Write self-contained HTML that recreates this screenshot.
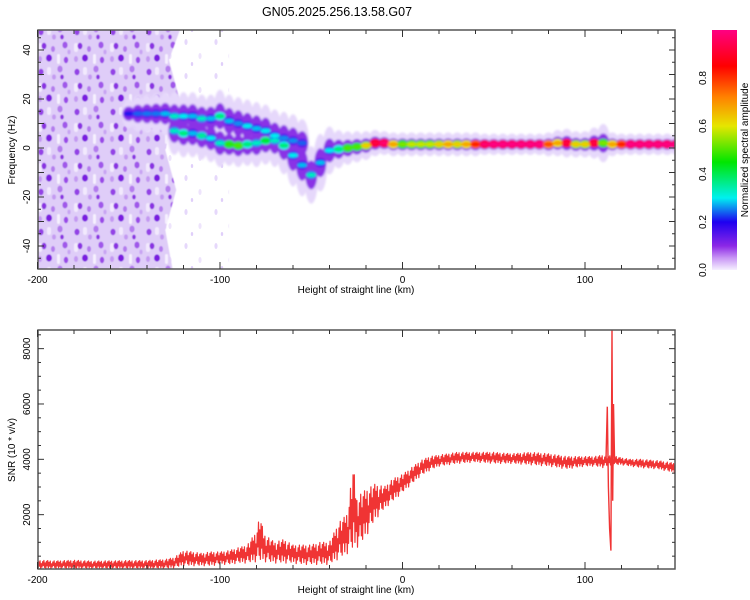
<!DOCTYPE html>
<html><head><meta charset="utf-8">
<style>
html,body{margin:0;padding:0;background:#fff;}
svg{display:block;font-family:"Liberation Sans",sans-serif;}
</style></head>
<body>
<svg id="chart" width="750" height="600" viewBox="0 0 750 600">
<defs>
<filter id="blur" x="-20%" y="-50%" width="140%" height="200%"><feGaussianBlur stdDeviation="1.1"/></filter>
<filter id="soft"><feGaussianBlur stdDeviation="0.6"/></filter>
<pattern id="noise" width="36" height="40" patternUnits="userSpaceOnUse">
<rect width="36" height="40" fill="#dfcdf8"/>
<rect x="2" y="3" width="4" height="9" rx="2" fill="#f2e9fd"/>
<rect x="21" y="14" width="3" height="10" rx="1.5" fill="#f6f0fe"/>
<rect x="11" y="27" width="4" height="8" rx="2" fill="#f2e9fd"/>
<ellipse cx="8" cy="6" rx="2.4" ry="3.2" fill="#8a32e2"/>
<ellipse cx="17" cy="9" rx="2" ry="3" fill="#b47cee"/>
<ellipse cx="29" cy="5" rx="2.6" ry="3.4" fill="#a058ea"/>
<ellipse cx="4" cy="19" rx="2" ry="3" fill="#c49af2"/>
<ellipse cx="13" cy="18" rx="3" ry="3.6" fill="#7a1ee0"/>
<ellipse cx="30" cy="20" rx="2.2" ry="3.2" fill="#9a4ae8"/>
<ellipse cx="24" cy="29" rx="2.6" ry="3.4" fill="#b47cee"/>
<ellipse cx="5" cy="32" rx="2.6" ry="3.2" fill="#9442e6"/>
<ellipse cx="18" cy="37" rx="2" ry="2.6" fill="#c49af2"/>
<ellipse cx="33" cy="12" rx="1.6" ry="2.4" fill="#c8a4f3"/>
<ellipse cx="26" cy="37" rx="1.8" ry="2.4" fill="#8a32e2"/>
</pattern>
<pattern id="sparse" width="30" height="34" patternUnits="userSpaceOnUse">
<ellipse cx="6" cy="8" rx="1.6" ry="3" fill="#e6d8fb"/>
<ellipse cx="20" cy="22" rx="1.6" ry="3" fill="#eee4fc"/>
<ellipse cx="12" cy="30" rx="1.2" ry="2" fill="#e0cffa"/>
</pattern>
<linearGradient id="cbar" x1="0" y1="1" x2="0" y2="0">
<stop offset="0" stop-color="#f6f0ff"/>
<stop offset="0.05" stop-color="#c896f5"/>
<stop offset="0.1" stop-color="#8c28e6"/>
<stop offset="0.2" stop-color="#1e00f0"/>
<stop offset="0.3" stop-color="#00f0f0"/>
<stop offset="0.45" stop-color="#00e600"/>
<stop offset="0.6" stop-color="#e6e600"/>
<stop offset="0.72" stop-color="#ff8200"/>
<stop offset="0.85" stop-color="#ff0000"/>
<stop offset="1" stop-color="#ff0082"/>
</linearGradient>
<clipPath id="clipTop"><rect x="38" y="30" width="637" height="239"/></clipPath>
<clipPath id="clipBot"><rect x="38" y="330" width="637" height="239"/></clipPath>
</defs>
<text x="337" y="16" font-size="12.5" text-anchor="middle" fill="#000">GN05.2025.256.13.58.G07</text>
<g id="topPanel"></g>
<g id="botPanel"></g>
<g id="cbPanel"></g>
</svg>
<script>
// ---- spectrogram data ----
const mainKm = [-125,-120,-115,-110,-105,-100,-95,-90,-85,-80,-75,-70,-65,-60,-55,-50,-45,-40,-35,-30,-25,-20,-15,-10,-5,0,5,10,15,20,25,30,35,40,45,50,55,60,65,70,75,80,85,90,95,100,105,110,115,120,125,130,135,140,145,150];
const mainFreq = [7,6,6,5,4,2,1.5,1,1.5,2,3,3,1,-3,-7,-11,-6,-1,-0.5,0,0.5,1,2,2,1.5,1.5,1.5,1.5,1.5,1.5,1.5,1.5,1.5,1.5,1.5,1.5,1.5,1.5,1.5,1.5,1.5,1.5,2,2,1.5,1.5,2,2,1.5,1.5,1.5,1.5,1.5,1.5,1.5,1.5];
const mainAmp = [0.25,0.3,0.2,0.28,0.22,0.25,0.4,0.42,0.3,0.25,0.35,0.25,0.3,0.22,0.2,0.25,0.2,0.22,0.3,0.42,0.42,0.55,0.85,0.9,0.6,0.45,0.5,0.5,0.5,0.55,0.6,0.55,0.6,0.75,0.9,0.95,0.95,0.95,0.95,0.95,0.95,0.7,0.6,0.85,0.55,0.55,0.85,0.45,0.6,0.75,0.95,0.95,0.95,0.95,0.95,0.95];
const mainSpread = [2,2,2,2,2,2,1.8,1.8,1.8,2,2,2.2,2.4,2.6,2.6,2.4,2.4,2,1.6,1.4,1.3,1.2,1.1,1,1,1,1,1,1,1,1,1,1,1,0.9,0.9,0.9,0.9,0.9,0.9,0.9,1,1.1,1.2,1.1,1.1,1.3,1.6,1,0.9,0.9,0.9,0.9,0.9,0.9,0.9];
const branchKm = [-150,-145,-140,-135,-130,-125,-120,-115,-110,-105,-100,-95,-90,-85,-80,-75,-70,-65,-60,-55];
const branchFreq = [14,14,14,14,14,13,13,13,12,12,13,11,10,9,8,7,5,4,3,2];
const branchAmp = [0.13,0.16,0.17,0.17,0.2,0.25,0.22,0.2,0.25,0.2,0.3,0.2,0.18,0.22,0.2,0.22,0.22,0.18,0.18,0.16];
const branchSpread = [1.2,1.5,1.6,1.7,1.8,2,2,2,2,2,2.2,2.2,2.2,2.2,2.2,2.2,2.2,2.2,2.2,2];
const xTicks = [-200,-100,0,100];
const fTicks = [-40,-20,0,20,40];
const cbTicks = [0,0.2,0.4,0.6,0.8];
// ---- SNR data ----
const snrKm = [-200,-190,-180,-170,-160,-150,-140,-130,-125,-120,-115,-110,-105,-100,-95,-90,-85,-80,-78,-76,-70,-65,-60,-55,-50,-45,-40,-35,-32,-30,-27,-25,-22,-20,-15,-10,-5,0,5,10,15,20,25,30,40,50,60,70,80,85,90,95,100,105,110,117,120,125,130,140,150];
const snrLow = [50,50,50,50,50,50,50,50,80,150,150,150,150,200,200,250,250,300,300,300,250,250,250,200,200,200,200,400,500,600,700,800,1000,1200,1800,2200,2500,2800,3100,3400,3600,3750,3800,3850,3900,3850,3850,3800,3750,3700,3650,3700,3750,3750,3700,3800,3800,3750,3700,3650,3500];
const snrHigh = [350,330,350,320,330,340,340,380,450,700,650,600,650,650,700,800,900,1400,2000,1300,1000,1100,900,900,900,1000,1000,1700,1900,2100,3800,2600,2800,2900,3100,3000,3300,3450,3700,3950,4100,4150,4200,4250,4250,4250,4200,4250,4200,4150,4100,4100,4100,4100,4150,4100,4050,4000,4000,3950,3850];
const transKm = [108,110,111.5,112.2,112.8,113.5,114.2,114.8,115.2,115.6,116.2,118];
const transVal = [3900,3950,4000,5900,3000,1500,700,8700,2500,6000,3900,3900];
const snrTicks = [2000,4000,6000,8000];

const NS = 'http://www.w3.org/2000/svg';
function mk(tag, attrs, parent){const e=document.createElementNS(NS,tag);for(const k in attrs)e.setAttribute(k,attrs[k]);parent.appendChild(e);return e;}
const xpx = km => 37.5 + (km + 200) * 1.825;
const ytop = f => 148 - f * 2.45;
const ybot = v => 570 - v * 0.02767;
const stops = [[0,[246,240,255]],[0.05,[200,150,245]],[0.1,[140,40,230]],[0.2,[30,0,240]],[0.3,[0,240,240]],[0.45,[0,230,0]],[0.6,[230,230,0]],[0.72,[255,130,0]],[0.85,[255,0,0]],[1,[255,0,130]]];
function cm(v){v=Math.max(0,Math.min(1,v));for(let i=1;i<stops.length;i++){if(v<=stops[i][0]){const a=stops[i-1],b=stops[i];const t=(v-a[0])/(b[0]-a[0]);const c=a[1].map((x,j)=>Math.round(x+(b[1][j]-x)*t));return `rgb(${c[0]},${c[1]},${c[2]})`;}}return 'rgb(255,0,130)';}

// ---------- TOP PANEL ----------
const topG = document.getElementById('topPanel');
const heat = mk('g',{'clip-path':'url(#clipTop)'},topG);


const sp = mk('rect',{x:xpx(-135),y:30,width:xpx(-95)-xpx(-135),height:239,fill:'url(#sparse)'},heat);


const nz = mk('path',{d:`M38 30 L${xpx(-122)} 30 L${xpx(-128)} 60 L${xpx(-122)} 100 L${xpx(-130)} 150 L${xpx(-124)} 190 L${xpx(-130)} 230 L${xpx(-126)} 269 L38 269 Z`,fill:'url(#noise)',filter:'url(#soft)'},heat);


const ridge = mk('g',{filter:'url(#blur)'},heat);


function drawTrack(kms, fs, as, ss, layer){
  for(let i=0;i<kms.length;i++){
    const cx=xpx(kms[i]), cy=ytop(fs[i]), a=as[i], s=ss[i];
    let e;
    if(layer===0) e=mk('ellipse',{cx,cy,rx:7,ry:12*s,fill:'#e6d8fb'},ridge);
    else if(layer===1) e=mk('ellipse',{cx,cy,rx:6,ry:6*s,fill:'#8a30e6'},ridge);
    else if(layer===2) e=mk('ellipse',{cx,cy,rx:5.5,ry:4.2,fill:cm(a)},ridge);
    else e=mk('ellipse',{cx,cy,rx:5,ry:2.2,fill:cm(Math.min(1,a+0.08))},ridge);
    
    
  }
}
for(let l=0;l<4;l++){drawTrack(branchKm,branchFreq,branchAmp,branchSpread,l);drawTrack(mainKm,mainFreq,mainAmp,mainSpread,l);}

function frame(x,y,w,h,parent,name){
  const r=mk('rect',{x,y,width:w,height:h,fill:'none',stroke:'#555',"stroke-width":1.5},parent);
  
  
}
frame(38,30,637,239,topG,'top-plot-frame');
function xAxis(parent, y0, y1, labelY, titleY){
  for(let km=-200;km<=150;km+=20){
    const x=xpx(km), len=(km%100===0)?7:4;
    mk('line',{x1:x,x2:x,y1:y1,y2:y1-len,stroke:'#333'},parent);
    mk('line',{x1:x,x2:x,y1:y0,y2:y0+len,stroke:'#333'},parent);
  }
  xTicks.forEach(v=>{const t=mk('text',{x:xpx(v),y:labelY,'font-size':10,'text-anchor':'middle'},parent);t.textContent=v;
    });
  const tt=mk('text',{x:356,y:titleY,'font-size':10,'text-anchor':'middle'},parent);
  tt.textContent='Height of straight line (km)';
  
  
}
xAxis(topG,30,269,283,293);
for(let f=-45;f<=45;f+=5){const y=ytop(f);const len=(f%10===0)?6:3;
  mk('line',{x1:38,x2:38+len,y1:y,y2:y,stroke:'#333'},topG);
  mk('line',{x1:675,x2:675-len,y1:y,y2:y,stroke:'#333'},topG);}
fTicks.forEach(v=>{const y=ytop(v);const t=mk('text',{x:0,y:0,'font-size':10,'text-anchor':'middle',transform:`translate(30,${y}) rotate(-90)`},topG);t.textContent=v;
  });
const yt=mk('text',{x:0,y:0,'font-size':10,'text-anchor':'middle',transform:'translate(15,150) rotate(-90)'},topG);
yt.textContent='Frequency (Hz)';



// ---------- COLORBAR ----------
const cbG=document.getElementById('cbPanel');
const cr=mk('rect',{x:712,y:30,width:25,height:240,fill:'url(#cbar)'},cbG);


cbTicks.forEach(v=>{const y=270-v*240;const t=mk('text',{x:0,y:0,'font-size':10,'text-anchor':'middle',transform:`translate(706,${y}) rotate(-90)`},cbG);t.textContent=v.toFixed(1);
  });
const ct=mk('text',{x:0,y:0,'font-size':10,'text-anchor':'middle',transform:'translate(748,150) rotate(-90)'},cbG);
ct.textContent='Normalized spectral amplitude';



// ---------- BOTTOM PANEL ----------
const botG=document.getElementById('botPanel');
const bg=mk('g',{'clip-path':'url(#clipBot)'},botG);
const texture=[1,0.1,0.8,0.3,0.95,0,0.6,0.2,0.85,0.4,1,0.15,0.7,0.05,0.9,0.35];
function interp(arr,km){for(let i=1;i<snrKm.length;i++){if(km<=snrKm[i]){const t=(km-snrKm[i-1])/(snrKm[i]-snrKm[i-1]);return arr[i-1]+(arr[i]-arr[i-1])*t;}}return arr[arr.length-1];}
let d='';let n=0;
for(let km=-200;km<=150;km+=0.35){
  const lo=interp(snrLow,km), hi=interp(snrHigh,km);
  const v=lo+(hi-lo)*texture[n%texture.length];
  d+=(n?'L':'M')+xpx(km).toFixed(2)+' '+ybot(v).toFixed(1)+' ';n++;
}
const line=mk('path',{d,fill:'none',stroke:'#f03434','stroke-width':1.2,'stroke-linejoin':'round'},bg);


let d2='';
transKm.forEach((k,i)=>{d2+=(i?'L':'M')+xpx(k).toFixed(1)+' '+ybot(transVal[i]).toFixed(1)+' ';});
const tr=mk('path',{d:d2,fill:'none',stroke:'#f03434','stroke-width':1.4},bg);


frame(38,330,637,239,botG,'bottom-plot-frame');
xAxis(botG,330,569,583,593);
for(let v=500;v<=8500;v+=500){const y=ybot(v);const len=(v%2000===0)?6:3;
  mk('line',{x1:38,x2:38+len,y1:y,y2:y,stroke:'#333'},botG);
  mk('line',{x1:675,x2:675-len,y1:y,y2:y,stroke:'#333'},botG);}
snrTicks.forEach(v=>{const y=ybot(v);const t=mk('text',{x:0,y:0,'font-size':10,'text-anchor':'middle',transform:`translate(30,${y}) rotate(-90)`},botG);t.textContent=v;
  });
const yb=mk('text',{x:0,y:0,'font-size':10,'text-anchor':'middle',transform:'translate(15,450) rotate(-90)'},botG);
yb.textContent='SNR (10 * v/v)';


</script>
</body></html>
